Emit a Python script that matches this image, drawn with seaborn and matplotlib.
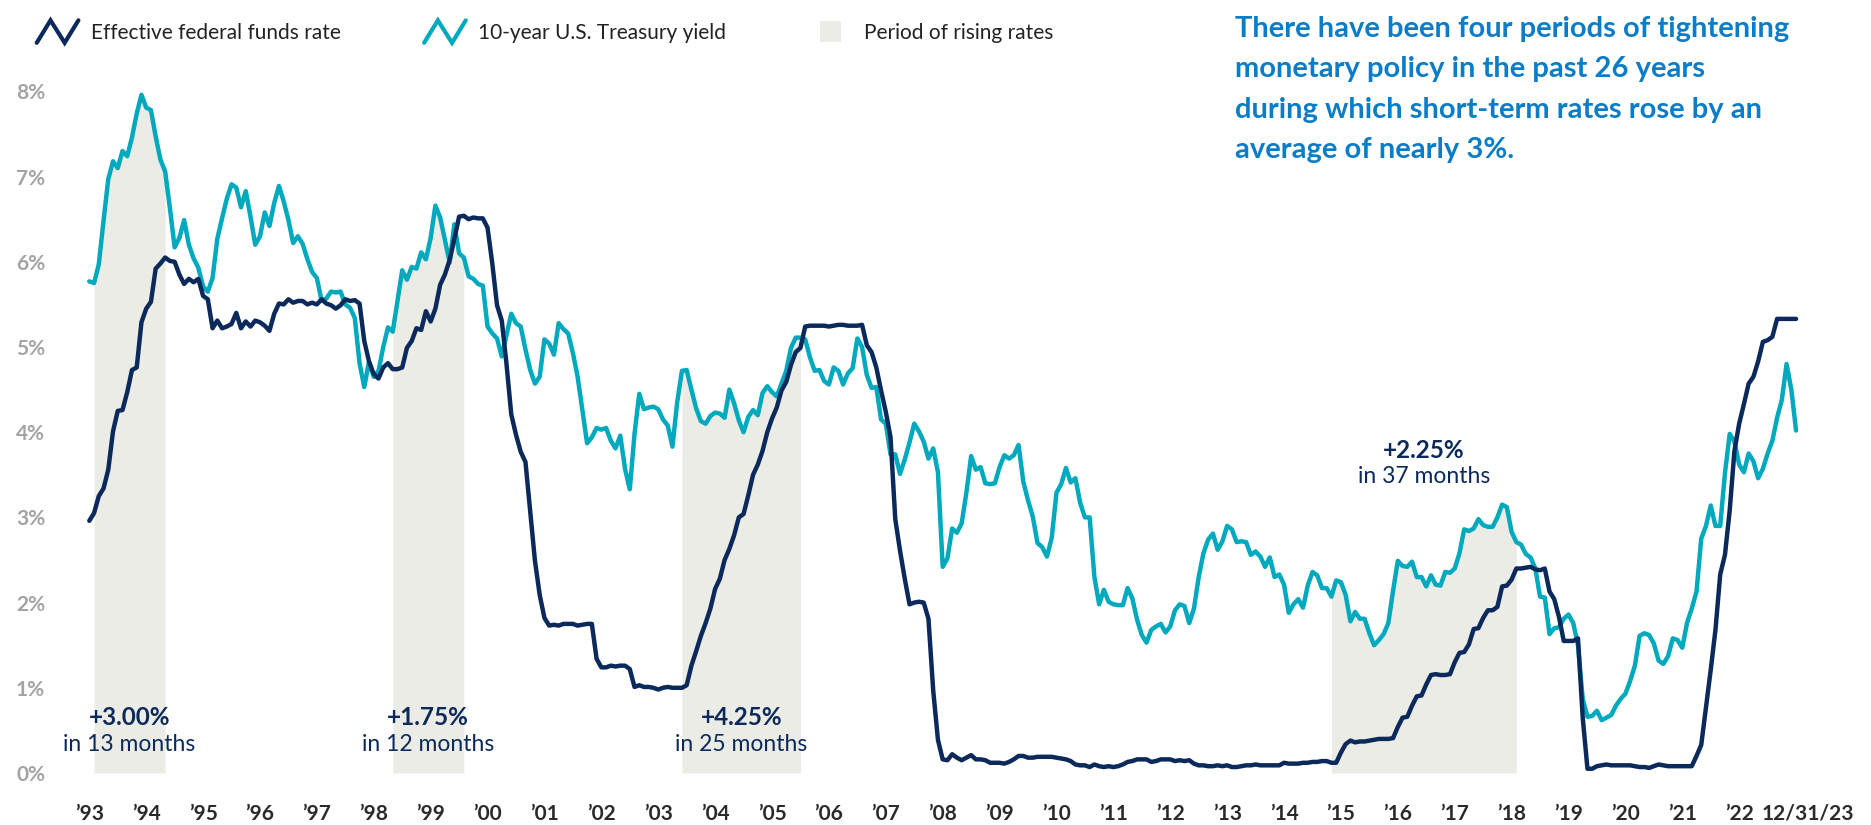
import numpy as np
import pandas as pd
import matplotlib
matplotlib.use("Agg")
import matplotlib.pyplot as plt
import seaborn as sns
from matplotlib.lines import Line2D
from matplotlib.patches import Patch, Rectangle
from matplotlib.legend_handler import HandlerBase
import matplotlib.transforms as mtransforms

# ---------------- data (monthly, Dec 1993 -> Dec 2023) ----------------
start_month = "1993-12"

fed_funds = [
    2.96,
    3.05, 3.25, 3.34, 3.56, 4.01, 4.25, 4.26, 4.47, 4.73, 4.76, 5.29, 5.45,
    5.53, 5.92, 5.98, 6.05, 6.01, 6.00, 5.85, 5.74, 5.80, 5.76, 5.80, 5.60,
    5.56, 5.22, 5.31, 5.22, 5.24, 5.27, 5.40, 5.22, 5.30, 5.24, 5.31, 5.29,
    5.25, 5.19, 5.39, 5.51, 5.50, 5.56, 5.52, 5.54, 5.54, 5.50, 5.52, 5.50,
    5.56, 5.51, 5.49, 5.45, 5.49, 5.56, 5.54, 5.55, 5.51, 5.07, 4.83, 4.68,
    4.63, 4.76, 4.81, 4.74, 4.74, 4.76, 4.99, 5.07, 5.22, 5.20, 5.42, 5.30,
    5.45, 5.73, 5.85, 6.02, 6.27, 6.53, 6.54, 6.50, 6.52, 6.51, 6.51, 6.40,
    5.98, 5.49, 5.31, 4.80, 4.21, 3.97, 3.77, 3.65, 3.07, 2.49, 2.09, 1.82,
    1.73, 1.74, 1.73, 1.75, 1.75, 1.75, 1.73, 1.74, 1.75, 1.75, 1.34, 1.24,
    1.24, 1.26, 1.25, 1.26, 1.26, 1.22, 1.01, 1.03, 1.01, 1.01, 1.00, 0.98,
    1.00, 1.01, 1.00, 1.00, 1.00, 1.03, 1.26, 1.43, 1.61, 1.76, 1.93, 2.16,
    2.28, 2.50, 2.63, 2.79, 3.00, 3.04, 3.26, 3.50, 3.62, 3.78, 4.00, 4.16,
    4.29, 4.49, 4.59, 4.79, 4.94, 4.99, 5.24, 5.25, 5.25, 5.25, 5.25, 5.24,
    5.25, 5.26, 5.26, 5.25, 5.25, 5.25, 5.26, 5.02, 4.94, 4.76, 4.49, 4.24,
    3.94, 2.98, 2.61, 2.28, 1.98, 2.00, 2.01, 2.00, 1.81, 0.97, 0.39, 0.16,
    0.15, 0.22, 0.18, 0.15, 0.18, 0.21, 0.16, 0.16, 0.15, 0.12, 0.12, 0.12,
    0.11, 0.13, 0.16, 0.20, 0.20, 0.18, 0.18, 0.19, 0.19, 0.19, 0.19, 0.18,
    0.17, 0.16, 0.14, 0.10, 0.09, 0.09, 0.07, 0.10, 0.08, 0.07, 0.08, 0.07,
    0.08, 0.10, 0.13, 0.14, 0.16, 0.16, 0.16, 0.13, 0.14, 0.16, 0.16, 0.16,
    0.14, 0.15, 0.14, 0.15, 0.11, 0.09, 0.09, 0.08, 0.08, 0.09, 0.08, 0.09,
    0.07, 0.07, 0.08, 0.09, 0.09, 0.10, 0.09, 0.09, 0.09, 0.09, 0.09, 0.12,
    0.11, 0.11, 0.11, 0.12, 0.12, 0.13, 0.13, 0.14, 0.14, 0.12, 0.12, 0.24,
    0.34, 0.38, 0.36, 0.37, 0.37, 0.38, 0.39, 0.40, 0.40, 0.40, 0.41, 0.54,
    0.65, 0.66, 0.79, 0.90, 0.91, 1.04, 1.15, 1.16, 1.15, 1.15, 1.16, 1.30,
    1.41, 1.42, 1.51, 1.69, 1.70, 1.82, 1.91, 1.91, 1.95, 2.19, 2.20, 2.27,
    2.40, 2.40, 2.41, 2.42, 2.39, 2.38, 2.40, 2.13, 2.04, 1.83, 1.55, 1.55,
    1.55, 1.58, 0.65, 0.05, 0.05, 0.08, 0.09, 0.10, 0.09, 0.09, 0.09, 0.09,
    0.09, 0.08, 0.07, 0.07, 0.06, 0.08, 0.10, 0.09, 0.08, 0.08, 0.08, 0.08,
    0.08, 0.08, 0.20, 0.33, 0.77, 1.21, 1.68, 2.33, 2.56, 3.08, 3.78, 4.10,
    4.33, 4.57, 4.65, 4.83, 5.06, 5.08, 5.12, 5.33, 5.33, 5.33, 5.33, 5.33,
]

treasury_10y = [
    5.77,
    5.75, 5.97, 6.48, 6.97, 7.18, 7.10, 7.30, 7.24, 7.46, 7.74, 7.96, 7.81,
    7.78, 7.47, 7.20, 7.06, 6.63, 6.17, 6.28, 6.49, 6.20, 6.04, 5.93, 5.71,
    5.65, 5.81, 6.27, 6.51, 6.74, 6.91, 6.87, 6.64, 6.83, 6.53, 6.20, 6.30,
    6.58, 6.42, 6.69, 6.89, 6.71, 6.49, 6.22, 6.30, 6.21, 6.03, 5.88, 5.81,
    5.54, 5.57, 5.65, 5.64, 5.65, 5.50, 5.46, 5.34, 4.81, 4.53, 4.83, 4.65,
    4.72, 5.00, 5.23, 5.18, 5.54, 5.90, 5.79, 5.94, 5.92, 6.11, 6.03, 6.28,
    6.66, 6.52, 6.26, 5.99, 6.44, 6.10, 6.05, 5.83, 5.80, 5.74, 5.72, 5.24,
    5.16, 5.10, 4.89, 5.14, 5.39, 5.28, 5.24, 4.97, 4.73, 4.57, 4.65, 5.09,
    5.04, 4.91, 5.28, 5.21, 5.16, 4.93, 4.65, 4.26, 3.87, 3.94, 4.05, 4.03,
    4.05, 3.90, 3.81, 3.96, 3.57, 3.33, 3.98, 4.45, 4.27, 4.29, 4.30, 4.27,
    4.15, 4.08, 3.83, 4.35, 4.72, 4.73, 4.50, 4.28, 4.13, 4.10, 4.19, 4.23,
    4.22, 4.17, 4.50, 4.34, 4.14, 4.00, 4.18, 4.26, 4.20, 4.46, 4.54, 4.47,
    4.42, 4.57, 4.72, 4.99, 5.11, 5.11, 5.09, 4.88, 4.72, 4.73, 4.60, 4.56,
    4.76, 4.72, 4.56, 4.69, 4.75, 5.10, 5.00, 4.67, 4.52, 4.53, 4.15, 4.10,
    3.74, 3.74, 3.51, 3.68, 3.88, 4.10, 4.01, 3.89, 3.69, 3.81, 3.53, 2.42,
    2.52, 2.87, 2.82, 2.93, 3.29, 3.72, 3.56, 3.59, 3.40, 3.39, 3.40, 3.59,
    3.73, 3.69, 3.73, 3.85, 3.42, 3.20, 3.01, 2.70, 2.65, 2.54, 2.76, 3.29,
    3.39, 3.58, 3.41, 3.46, 3.17, 3.00, 3.00, 2.30, 1.98, 2.15, 2.01, 1.98,
    1.97, 1.97, 2.17, 2.05, 1.80, 1.62, 1.53, 1.68, 1.72, 1.75, 1.65, 1.72,
    1.91, 1.98, 1.96, 1.76, 1.93, 2.30, 2.58, 2.74, 2.81, 2.62, 2.72, 2.90,
    2.86, 2.71, 2.72, 2.71, 2.56, 2.60, 2.54, 2.42, 2.53, 2.30, 2.33, 2.21,
    1.88, 1.98, 2.04, 1.94, 2.20, 2.36, 2.32, 2.17, 2.17, 2.07, 2.26, 2.24,
    2.09, 1.78, 1.89, 1.81, 1.81, 1.64, 1.50, 1.56, 1.63, 1.76, 2.14, 2.49,
    2.43, 2.42, 2.48, 2.30, 2.30, 2.19, 2.32, 2.21, 2.20, 2.36, 2.35, 2.40,
    2.58, 2.86, 2.84, 2.87, 2.98, 2.91, 2.89, 2.89, 3.00, 3.15, 3.12, 2.83,
    2.71, 2.68, 2.57, 2.53, 2.40, 2.07, 2.06, 1.63, 1.70, 1.71, 1.81, 1.86,
    1.76, 1.50, 0.87, 0.66, 0.67, 0.73, 0.62, 0.65, 0.68, 0.79, 0.87, 0.93,
    1.08, 1.26, 1.61, 1.64, 1.62, 1.52, 1.32, 1.28, 1.37, 1.58, 1.56, 1.47,
    1.76, 1.93, 2.13, 2.75, 2.90, 3.14, 2.90, 2.90, 3.52, 3.98, 3.89, 3.62,
    3.53, 3.75, 3.66, 3.46, 3.57, 3.75, 3.90, 4.17, 4.38, 4.80, 4.50, 4.02,
]

series_names = ["Effective federal funds rate", "10-year U.S. Treasury yield"]
shade_name = "Period of rising rates"

period_starts = ["1994-01", "1999-04", "2004-05", "2015-10"]
period_ends = ["1995-04", "2000-07", "2006-06", "2019-01"]
period_rise = ["+3.00%", "+1.75%", "+4.25%", "+2.25%"]
period_length = ["in 13 months", "in 12 months", "in 25 months", "in 37 months"]

year_labels = ["\u2019%02d" % (y % 100) for y in range(1993, 2023)] + ["12/31/23"]
y_ticks = [0, 1, 2, 3, 4, 5, 6, 7, 8]

headline = ("There have been four periods of tightening\n"
            "monetary policy in the past 26 years\n"
            "during which short-term rates rose by an\n"
            "average of nearly 3%.")

# ---------------- styling ----------------
NAVY = "#0b2a5b"
TEAL = "#00a9be"
SHADE = "#ecece6"
BLUE = "#0a7dc8"
GRAY = "#a3a3a3"
DARK = "#2a2a2a"

sns.set_theme(style="white")
plt.rcParams["font.family"] = ["Lato", "DejaVu Sans"]

def month_index(s):
    p0 = pd.Period(start_month, freq="M")
    return (pd.Period(s, freq="M") - p0).n

n = len(fed_funds)
months = np.arange(n)
df = pd.DataFrame({
    "month": np.concatenate([months, months]),
    "rate": np.concatenate([fed_funds, treasury_10y]),
    "series": [series_names[0]] * n + [series_names[1]] * n,
})

W, H = 1871, 825
fig = plt.figure(figsize=(W / 100, H / 100), dpi=100)
px_per_month = 4.741
x0_px = 89.3
xmin, xmax = -2, 362
y0_px = 773
px_per_pct = 85.2
ymax = 8.6
left = (x0_px + xmin * px_per_month) / W
right = (x0_px + xmax * px_per_month) / W
bottom = (H - y0_px) / H
height = ymax * px_per_pct / H
ax = fig.add_axes([left, bottom, right - left, height])

# shaded periods (area under the 10-year yield)
t10 = np.array(treasury_10y)
for s, e in zip(period_starts, period_ends):
    a, b = month_index(s), month_index(e)
    ax.fill_between(months[a:b + 1], 0, t10[a:b + 1], color=SHADE, lw=0, zorder=1)

sns.lineplot(data=df, x="month", y="rate", hue="series",
             palette={series_names[0]: NAVY, series_names[1]: TEAL},
             hue_order=[series_names[1], series_names[0]],
             linewidth=3.2, ax=ax, legend=False, zorder=3)
for ln in ax.lines:
    ln.set_solid_joinstyle("round")
    ln.set_solid_capstyle("round")

# period annotations
for i, (s, e) in enumerate(zip(period_starts, period_ends)):
    a, b = month_index(s), month_index(e)
    xc = (a + b) / 2
    if i < 3:
        y1, y2 = 0.56, 0.255
    else:
        y1, y2 = 3.70, 3.405
    ax.text(xc, y1, period_rise[i], ha="center", va="baseline", fontsize=17.5,
            fontweight="bold", color=NAVY, zorder=5)
    ax.text(xc, y2, period_length[i], ha="center", va="baseline", fontsize=16.5,
            color=NAVY, zorder=5)

ax.set_xlim(xmin, xmax)
ax.set_ylim(0, ymax)
for sp in ax.spines.values():
    sp.set_visible(False)
ax.grid(False)
ax.set_xlabel("")
ax.set_ylabel("")

ax.set_yticks(y_ticks)
ax.set_yticklabels([f"{v}%" for v in y_ticks])
ax.tick_params(axis="y", length=0, pad=25, labelsize=15, labelcolor=GRAY)
for t in ax.get_yticklabels():
    t.set_fontweight("bold")

xt = list(range(0, 12 * 30, 12))
ax.set_xticks(xt)
ax.set_xticklabels(year_labels[:-1])
ax.tick_params(axis="x", length=0, pad=22, labelsize=15, labelcolor=DARK)
for t in ax.get_xticklabels():
    t.set_fontweight("bold")
# final date label, aligned with the other tick labels
offs = mtransforms.ScaledTranslation(0.12, -22 / 72, fig.dpi_scale_trans)
ax.text(n - 1, 0, year_labels[-1], transform=ax.get_xaxis_transform() + offs,
        ha="center", va="top", fontsize=15, fontweight="bold", color=DARK)

# headline
fig.text(1235 / W, 1 - 16 / H, headline, ha="left", va="top", fontsize=21,
         fontweight="bold", color=BLUE, linespacing=1.68)

# legend with zig-zag line handles
class ZigZag(HandlerBase):
    def create_artists(self, legend, orig_handle, xdescent, ydescent,
                       width, height, fontsize, trans):
        xs = np.array([0.0, 0.33, 0.67, 1.0]) * width - xdescent
        ys = (np.array([0.0, 1.0, 0.0, 1.0]) * 1.3 - 0.15) * height - ydescent
        ln = Line2D(xs, ys, color=orig_handle.get_color(), lw=3.0,
                    solid_joinstyle="miter", transform=trans)
        return [ln]

class Square(HandlerBase):
    def create_artists(self, legend, orig_handle, xdescent, ydescent,
                       width, height, fontsize, trans):
        s = height * 1.2
        r = Rectangle((-xdescent + (width - s) / 2, -ydescent + (height - s) / 2), s, s,
                      facecolor=orig_handle.get_facecolor(), lw=0, transform=trans)
        return [r]

h_navy = Line2D([], [], color=NAVY)
h_teal = Line2D([], [], color=TEAL)
h_shade = Patch(facecolor=SHADE)
fig.legend([h_navy, h_teal, h_shade], [series_names[0], series_names[1], shade_name],
           handler_map={Line2D: ZigZag(), Patch: Square()},
           loc="upper left", bbox_to_anchor=(18 / W, 1 - 4 / H), ncol=3, frameon=False,
           fontsize=15, handlelength=2.0, handleheight=0.9, handletextpad=0.6,
           columnspacing=4.0, labelcolor="#222222")

fig.savefig("out.png", dpi=100)
